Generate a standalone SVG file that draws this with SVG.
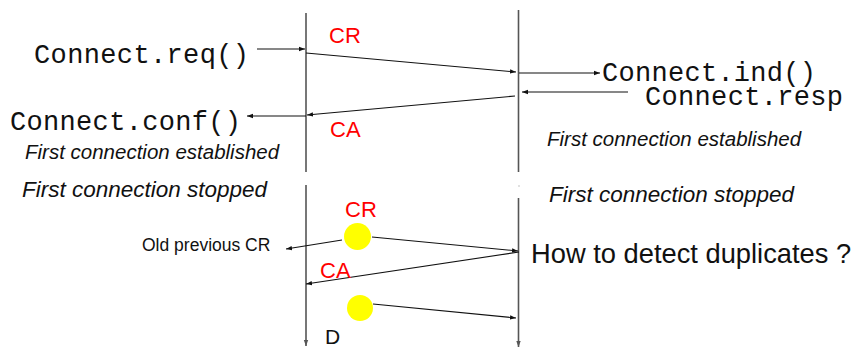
<svg xmlns="http://www.w3.org/2000/svg" width="857" height="349" viewBox="0 0 857 349">
<style>
.life{stroke:#555;stroke-width:1.6;fill:none}
.msg{stroke:#111;stroke-width:1.1;fill:none;marker-end:url(#ah)}
.mono{font-family:"Liberation Mono","Courier New",monospace;font-size:27px;fill:#111}
.red{font-family:"Liberation Sans",Arial,sans-serif;font-size:22px;fill:#f00}
.it{font-family:"Liberation Sans",Arial,sans-serif;font-style:italic;fill:#111}
.sans{font-family:"Liberation Sans",Arial,sans-serif;fill:#111}
.dot{fill:#ffff00}
</style>
<defs>
<marker id="ah" markerUnits="userSpaceOnUse" markerWidth="7" markerHeight="6" refX="6" refY="3" orient="auto">
<path d="M0,0.8 L6,3 L0,5.2 z" fill="#111"/>
</marker>
<marker id="ahl" markerUnits="userSpaceOnUse" markerWidth="7" markerHeight="6" refX="6" refY="3" orient="auto">
<path d="M0,0.8 L6,3 L0,5.2 z" fill="#555"/>
</marker>
</defs>
<g id="lifelines">
<line class="life" x1="306" y1="13" x2="306" y2="172"/>
<line class="life" x1="306" y1="185" x2="306" y2="346" marker-end="url(#ahl)"/>
<line class="life" x1="518.5" y1="10" x2="518.5" y2="172"/>
<line class="life" x1="518.5" y1="198" x2="518.5" y2="347" marker-end="url(#ahl)"/>
<circle cx="519" cy="186" r="0.8" fill="#bbb"/>
</g>
<g id="connectors">
<line class="msg" x1="257" y1="49" x2="305" y2="49"/>
<line class="msg" x1="306" y1="53" x2="516" y2="72"/>
<line class="msg" x1="519" y1="73" x2="600" y2="73"/>
<line class="msg" x1="628" y1="92" x2="522" y2="92"/>
<line class="msg" x1="515" y1="96" x2="307" y2="115"/>
<line class="msg" x1="306" y1="116" x2="247" y2="116"/>
<line class="msg" x1="342" y1="240" x2="286" y2="249"/>
<line class="msg" x1="372" y1="237" x2="518" y2="251"/>
<line class="msg" x1="519" y1="252" x2="306" y2="284"/>
<line class="msg" x1="373" y1="304" x2="516" y2="318"/>
</g>
<g id="req"><text class="mono" x="34" y="63" textLength="215">Connect.req()</text></g>
<g id="conf"><text class="mono" x="10" y="130" textLength="231">Connect.conf()</text></g>
<g id="ind"><text class="mono" x="602" y="80.5" textLength="214">Connect.ind()</text></g>
<g id="resp"><text class="mono" x="645" y="105" textLength="198">Connect.resp</text></g>
<g id="cr1"><text class="red" x="329" y="43">CR</text></g>
<g id="ca1"><text class="red" x="330" y="137">CA</text></g>
<g id="est-left"><text class="it" x="25" y="159" font-size="20.5">First connection established</text></g>
<g id="est-right"><text class="it" x="547" y="146" font-size="20.5">First connection established</text></g>
<g id="stop-left"><text class="it" x="22" y="197" font-size="22.5">First connection stopped</text></g>
<g id="stop-right"><text class="it" x="549" y="202" font-size="22.5">First connection stopped</text></g>
<g id="dup1">
<circle class="dot" cx="357.5" cy="236.5" r="13.5"/>
<text class="red" x="345" y="217">CR</text>
</g>
<g id="ca2"><text class="red" x="320" y="278">CA</text></g>
<g id="dup2"><circle class="dot" cx="360" cy="308" r="13"/></g>
<g id="old"><text class="sans" x="142" y="251" font-size="17.5">Old previous CR</text></g>
<g id="how"><text class="sans" x="531" y="263" font-size="27.3">How to detect duplicates ?</text></g>
<g id="d"><text class="sans" x="325" y="344" font-size="21">D</text></g>
</svg>
